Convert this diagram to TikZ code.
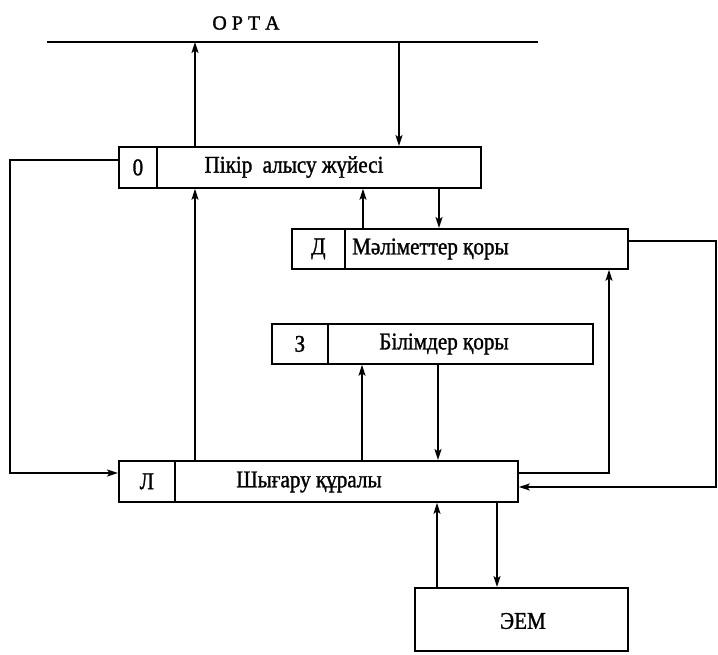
\documentclass[tikz,border=0pt]{standalone}
\usepackage{fontspec}
\setmainfont{Liberation Serif}
\newfontfamily\scanfont[FakeStretch=0.88,FakeBold=1.2]{Liberation Serif}
\newfontfamily\ortafont[FakeBold=1.5]{Liberation Serif}
\usetikzlibrary{arrows.meta,calc}
\begin{document}
\begin{tikzpicture}[x=1pt,y=-1pt,
  ln/.style={line width=1.8pt},
  arr/.style={ln,-{Stealth[length=11pt,width=7pt,inset=2.5pt]}},
  boxx/.style={draw,line width=1.8pt,anchor=north west,inner sep=0pt},
  lbl/.style={font=\scanfont\fontsize{24}{28}\selectfont},
  txt/.style={font=\scanfont\fontsize{24}{28}\selectfont,inner sep=0pt}]
\useasboundingbox (0,0) rectangle (718,654);
% environment line
\coordinate (lineL) at (47,42);
\coordinate (lineR) at (538,42);
\coordinate (rr) at (716,0);
\coordinate (ll) at (10,0);
\draw[ln] (lineL) -- (lineR);
\node[txt,font=\ortafont\fontsize{20}{24}\selectfont] (orta) at (246,23) {О\hspace{5pt}Р\hspace{5pt}Т\hspace{5pt}А};
% boxes
\node[boxx,minimum width=362pt,minimum height=41pt] (O) at (118,146) {};
\node[boxx,minimum width=38pt,minimum height=41pt,lbl] (Ol) at (118,146) {0};
\node[txt] (Ot) at (294,167) {Пікір\hspace{5pt} алысу жүйесі};
\node[boxx,minimum width=336pt,minimum height=40pt] (D) at (291,228) {};
\node[boxx,minimum width=53pt,minimum height=40pt,lbl] (Dl) at (291,228) {Д};
\node[txt,anchor=west] (Dt) at (352,249) {Мәліметтер қоры};
\node[boxx,minimum width=321pt,minimum height=40pt] (Z) at (271,323) {};
\node[boxx,minimum width=56pt,minimum height=40pt,lbl] (Zl) at (271,323) {З};
\node[txt] (Zt) at (444,344) {Білімдер қоры};
\node[boxx,minimum width=399pt,minimum height=41pt] (L) at (118,460) {};
\node[boxx,minimum width=56pt,minimum height=41pt,lbl] (Ll) at (118,460) {Л};
\node[txt] (Lt) at (309,482) {Шығару құралы};
\node[boxx,minimum width=213pt,minimum height=63pt] (E) at (414,587) {};
\node[txt] (Et) at (523,621) {ЭЕМ};
% connectors
\draw[arr] ([xshift=77pt]O.north west) -- ([xshift=77pt]O.north west |- lineL);
\draw[arr] ([xshift=281pt]O.north west |- lineL) -- ([xshift=281pt]O.north west);
\draw[arr] ([xshift=77pt]L.north west) -- ([xshift=77pt]O.south west);
\draw[arr] ([xshift=72pt]D.north west) -- ([xshift=72pt]D.north west |- O.south);
\draw[arr] ([xshift=148pt]D.north west |- O.south) -- ([xshift=148pt]D.north west);
\draw[arr] ([xshift=91pt]Z.south west |- L.north) -- ([xshift=91pt]Z.south west);
\draw[arr] ([xshift=167pt]Z.south west) -- ([xshift=167pt]Z.south west |- L.north);
\draw[arr] ([yshift=-13pt]L.north east) -| ([xshift=318pt]D.south west);
\draw[arr] ([yshift=-13pt]D.north east) -- ([yshift=-13pt]D.north east -| rr) |- ([yshift=-27pt]L.north east);
\draw[arr] ([yshift=-14pt]O.north west) -- ([yshift=-14pt]O.north west -| ll) |- ([yshift=-13pt]L.north west);
\draw[arr] ([xshift=23pt]E.north west) -- ([xshift=23pt]E.north west |- L.south);
\draw[arr] ([xshift=83pt]E.north west |- L.south) -- ([xshift=83pt]E.north west);
\end{tikzpicture}
\end{document}
